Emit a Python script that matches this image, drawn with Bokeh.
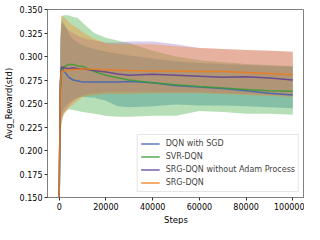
from bokeh.plotting import figure
from bokeh.models import FixedTicker, PrintfTickFormatter, Legend, LegendItem, Title
from bokeh.embed import file_html
from bokeh.resources import INLINE

steps = [0, 500, 1000, 2000, 4000, 6000, 8000, 10000, 15000, 20000, 25000, 30000,
         40000, 50000, 60000, 70000, 80000, 90000, 100000]

sgd_mean = [0.150, 0.270, 0.287, 0.285, 0.278, 0.275, 0.274, 0.273, 0.273, 0.273, 0.273, 0.2735,
            0.272, 0.269, 0.2675, 0.266, 0.2635, 0.261, 0.259]
sgd_upper = [0.150, 0.315, 0.338, 0.335, 0.325, 0.318, 0.315, 0.312, 0.308, 0.305, 0.303, 0.301,
             0.298, 0.295, 0.293, 0.292, 0.291, 0.290, 0.289]
sgd_lower = [0.150, 0.225, 0.240, 0.245, 0.250, 0.254, 0.256, 0.257, 0.256, 0.253, 0.247, 0.246,
             0.247, 0.249, 0.248, 0.248, 0.247, 0.246, 0.245]

svr_mean = [0.150, 0.265, 0.284, 0.289, 0.2915, 0.2915, 0.290, 0.2895, 0.284, 0.280, 0.2775, 0.275,
            0.272, 0.270, 0.268, 0.2665, 0.265, 0.2635, 0.263]
svr_upper = [0.150, 0.320, 0.343, 0.344, 0.344, 0.342, 0.341, 0.336, 0.325, 0.320, 0.317, 0.314,
             0.306, 0.300, 0.296, 0.294, 0.292, 0.291, 0.290]
svr_lower = [0.150, 0.210, 0.228, 0.240, 0.244, 0.243, 0.242, 0.241, 0.239, 0.237, 0.236, 0.236,
             0.237, 0.237, 0.242, 0.241, 0.239, 0.239, 0.238]

noadam_mean = [0.150, 0.275, 0.289, 0.288, 0.287, 0.288, 0.287, 0.287, 0.285, 0.2835, 0.2815, 0.280,
               0.281, 0.280, 0.279, 0.278, 0.2785, 0.277, 0.275]
noadam_upper = [0.150, 0.310, 0.335, 0.333, 0.328, 0.325, 0.322, 0.320, 0.317, 0.315, 0.315, 0.316,
                0.316, 0.313, 0.309, 0.308, 0.307, 0.306, 0.305]
noadam_lower = [0.150, 0.220, 0.235, 0.240, 0.247, 0.252, 0.256, 0.259, 0.261, 0.262, 0.262, 0.262,
                0.262, 0.262, 0.262, 0.261, 0.260, 0.259, 0.258]

srg_mean = [0.150, 0.272, 0.285, 0.284, 0.286, 0.286, 0.2865, 0.287, 0.2865, 0.286, 0.2855, 0.285,
            0.2845, 0.2845, 0.284, 0.284, 0.283, 0.282, 0.2805]
srg_upper = [0.150, 0.320, 0.343, 0.342, 0.337, 0.333, 0.330, 0.326, 0.319, 0.314, 0.313, 0.313,
             0.313, 0.311, 0.309, 0.308, 0.307, 0.306, 0.305]
srg_lower = [0.150, 0.215, 0.232, 0.238, 0.245, 0.249, 0.253, 0.257, 0.259, 0.260, 0.260, 0.260,
             0.261, 0.261, 0.261, 0.260, 0.259, 0.258, 0.257]

labels = ["DQN with SGD", "SVR-DQN", "SRG-DQN without Adam Process", "SRG-DQN"]
colors = ["#1f77b4", "#2ca02c", "#9467bd", "#ff7f0e"]
line_colors = ["#3d63b5", "#3a9a35", "#5e3f93", "#f07a1a"]
x_ticks = [0, 20000, 40000, 60000, 80000, 100000]
y_ticks = [0.150, 0.175, 0.200, 0.225, 0.250, 0.275, 0.300, 0.325, 0.350]
x_title = "Steps"
y_title = "Avg_Reward(std)"

series = [
    (sgd_mean, sgd_upper, sgd_lower),
    (svr_mean, svr_upper, svr_lower),
    (noadam_mean, noadam_upper, noadam_lower),
    (srg_mean, srg_upper, srg_lower),
]

FONT = "DejaVu Sans"
p = figure(width=304, height=224, output_backend="svg", toolbar_location=None,
           x_range=(-5000, 105000), y_range=(0.15, 0.35),
           min_border_left=40, min_border_right=0, min_border_top=9, min_border_bottom=0)
p.grid.visible = False
p.outline_line_color = "#808080"
p.background_fill_color = "white"

for (m, u, l), c in zip(series, colors):
    p.varea(x=steps, y1=l, y2=u, fill_color=c, fill_alpha=0.34)
line_renderers = []
for (m, u, l), c in zip(series, line_colors):
    r = p.line(steps, m, line_color=c, line_width=1.5, line_alpha=0.85)
    line_renderers.append(r)

for ax in (p.xaxis[0], p.yaxis[0]):
    ax.axis_line_color = "#808080"
    ax.major_tick_line_color = "#333333"
    ax.major_tick_out = 3
    ax.major_tick_in = 0
    ax.minor_tick_line_color = None
    ax.major_label_text_font = FONT
    ax.major_label_text_font_size = "8px"
    ax.major_label_text_color = "black"
    ax.axis_label_text_font = FONT
    ax.axis_label_text_font_size = "8.5px"
    ax.axis_label_text_font_style = "normal"
    ax.axis_label_text_color = "black"

p.xaxis.ticker = FixedTicker(ticks=x_ticks)
p.yaxis.ticker = FixedTicker(ticks=y_ticks)
p.xaxis.formatter = PrintfTickFormatter(format="%d")
p.yaxis.formatter = PrintfTickFormatter(format="%.3f")
p.yaxis.axis_label = y_title
p.yaxis.axis_label_standoff = 3
p.xaxis.major_label_standoff = 2
p.yaxis.major_label_standoff = 2

p.add_layout(Title(text=x_title, align="center", text_font=FONT, text_font_size="8.5px",
                   text_font_style="normal", text_color="black", standoff=0, offset=0), "below")

legend = Legend(items=[LegendItem(label=lab, renderers=[r]) for lab, r in zip(labels, line_renderers)],
                location="bottom_right")
legend.label_text_font = FONT
legend.label_text_font_size = "8px"
legend.label_height = 11
legend.glyph_height = 11
legend.glyph_width = 19
legend.spacing = 2
legend.padding = 3
legend.margin = 5
legend.label_standoff = 6
legend.border_line_color = "#cccccc"
legend.background_fill_alpha = 0.8
p.add_layout(legend)

open("out.html", "w").write(file_html(p, INLINE))
